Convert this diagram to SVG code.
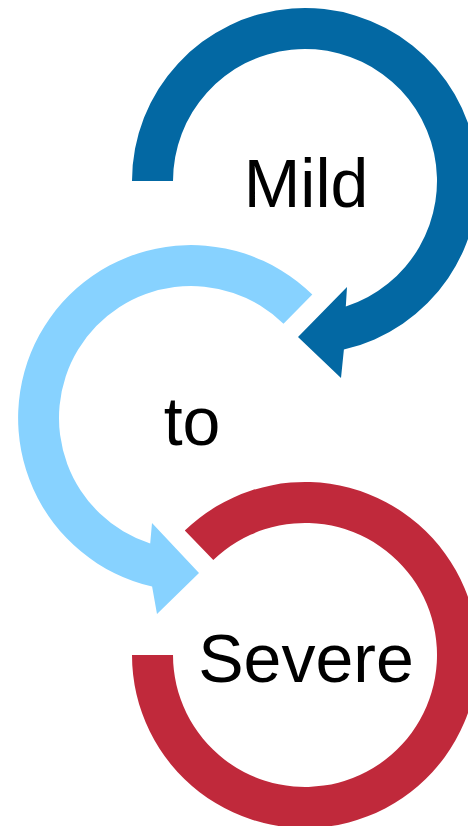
<svg xmlns="http://www.w3.org/2000/svg" width="468" height="826" viewBox="0 0 468 826">
<style>
.lbl{font-family:"Liberation Sans",Arial,sans-serif;font-size:68px;fill:#000;text-anchor:middle}
.dark{fill:#0368A3}
.light{fill:#87D2FF}
.red{fill:#C0293B}
</style>
<rect width="468" height="826" fill="#fff"/>
<g id="mild">
<path class="dark" d="M132,181 A173,173 0 1 1 343.9,349.6 L341,378 L298,337 L347,287 L345.8,306.5 A132,132 0 1 0 173,181 Z"/>
<text class="lbl" x="306" y="207">Mild</text>
</g>
<g id="to">
<path class="light" d="M312.3,294.6 A173,173 0 1 0 152.1,586.6 L157,614 L199,573 L152,523 L150.2,543.5 A132,132 0 1 1 283.5,323.8 Z"/>
<text class="lbl" x="192" y="445">to</text>
</g>
<g id="severe">
<path class="red" d="M184.8,530.6 A173,173 0 1 1 132,655 L173,655 A132,132 0 1 0 213.3,560 Z"/>
<text class="lbl" x="306" y="682">Severe</text>
</g>
</svg>
